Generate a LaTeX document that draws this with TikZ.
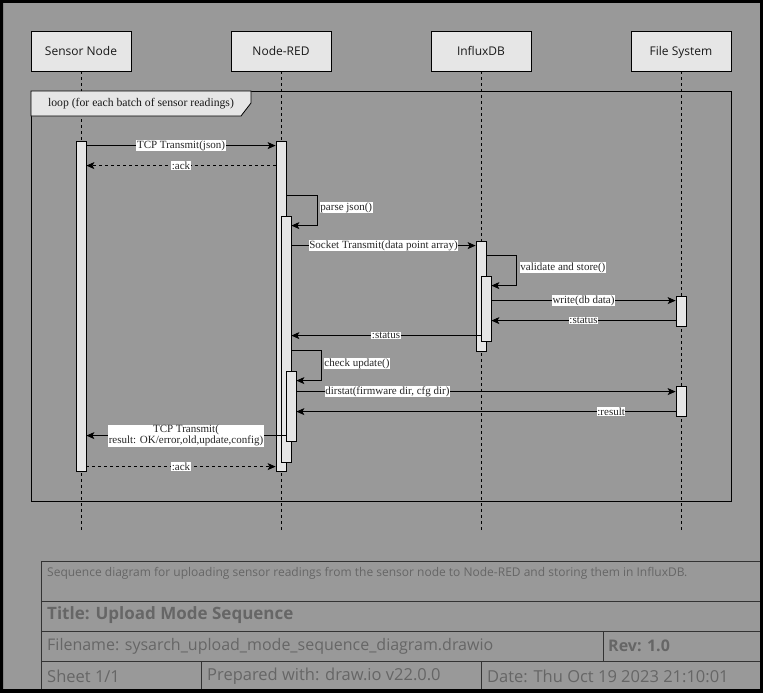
\documentclass[tikz,border=0pt]{standalone}
\usepackage{fontspec}
\setmainfont{Liberation Serif}
\newfontfamily\osans{Open Sans}
\usetikzlibrary{arrows.meta}
\definecolor{bggray}{HTML}{999999}
\definecolor{boxgray}{HTML}{E6E6E6}
\definecolor{tbline}{HTML}{333333}
\definecolor{tbtext}{HTML}{666666}
\begin{document}
\begin{tikzpicture}[x=1pt,y=-1pt,
  hdr/.style={draw=black, fill=boxgray, minimum width=100pt, minimum height=40pt, inner sep=0pt, line width=0.8pt, font=\osans\fontsize{12}{14}\selectfont, text=black!90, text depth=1pt},
  act/.style={draw=black, fill=boxgray, minimum width=10pt, inner sep=0pt, line width=0.8pt},
  life/.style={draw=black, dash pattern=on 3pt off 3pt, line width=0.7pt},
  msg/.style={draw=black, line width=0.9pt, -{Stealth[length=8pt,width=7pt,inset=2pt]}},
  ret/.style={msg, dash pattern=on 3pt off 3pt},
  lbl/.style={fill=white, inner sep=0.6pt, font=\fontsize{11}{11}\selectfont, text=black!85},
  tb/.style={anchor=west, inner sep=0pt, text=tbtext, font=\osans\fontsize{16}{18}\selectfont},
  tbb/.style={tb, font=\osans\bfseries\fontsize{16}{18}\selectfont},
]
\useasboundingbox (0,0) rectangle (763,693);
\fill[bggray] (0,0) rectangle (763,693);

% headers
\node[hdr] (hS) at (81,51) {Sensor Node};
\node[hdr] (hN) at (281,51) {Node-RED};
\node[hdr] (hI) at (481,51) {InfluxDB};
\node[hdr] (hF) at (681,51) {File System};

% lifelines
\coordinate (lend) at (0,530);
\foreach \h in {hS,hN,hI,hF} \draw[life] (\h.south) -- (\h.south |- lend);

% loop frame
\draw[black, line width=0.8pt] (31,91) rectangle (731,501);
\draw[black, fill=boxgray, line width=0.8pt] (31,91) -- (251,91) -- (251,103) -- (241,116) -- (31,116) -- cycle;
\node[font=\fontsize{11.7}{14}\selectfont, text=black!90, inner sep=0pt] (loopl) at (141,104) {loop (for each batch of sensor readings)};

% activations
\node[act, minimum height=330pt] (sA) at (81,306) {};
\node[act, minimum height=330pt] (nA) at (281,306) {};
\node[act, minimum height=246pt] (nB) at (286,339) {};
\node[act, minimum height=70pt] (nC) at (291,406) {};
\node[act, minimum height=110pt] (iA) at (481,296) {};
\node[act, minimum height=65pt] (iB) at (486,308.5) {};
\node[act, minimum height=30pt] (fA) at (681,311) {};
\node[act, minimum height=30pt] (fB) at (681,401) {};

% messages
\draw[msg] ([yshift=-5pt]sA.north east) -- node[lbl] {TCP Transmit(json)} ([yshift=-5pt]nA.north west);
\draw[ret] ([yshift=-25pt]nA.north west) -- node[lbl] {:ack} ([yshift=-25pt]sA.north east);
\draw[msg] ([yshift=-55pt]nA.north east) -- ++(31pt,0) |- node[lbl, pos=0.2, anchor=west, xshift=2pt] {parse json()} ([yshift=-10pt]nB.north east);
\draw[msg] ([yshift=-30pt]nB.north east) -- node[lbl] {Socket Transmit(data point array)} ([yshift=-5pt]iA.north west);
\draw[msg] ([yshift=-15pt]iA.north east) -- ++(30pt,0) |- node[lbl, pos=0.2, anchor=west, xshift=3pt] {validate and store()} ([yshift=-10pt]iB.north east);
\draw[msg] ([yshift=-25pt]iB.north east) -- node[lbl] {write(db data)} ([yshift=-5pt]fA.north west);
\draw[msg] ([yshift=-25pt]fA.north west) -- node[lbl] {:status} ([yshift=-45pt]iB.north east);
\draw[msg] ([yshift=-60pt]iB.north west) -- node[lbl] {:status} ([yshift=-120pt]nB.north east);
\draw[msg] ([yshift=-135pt]nB.north east) -- ++(30pt,0) |- node[lbl, pos=0.22, anchor=west, xshift=2pt] {check update()} ([yshift=-10pt]nC.north east);
\draw[msg] ([yshift=-21pt]nC.north east) -- node[lbl, pos=0.24] {dirstat(firmware dir, cfg dir)} ([yshift=-6pt]fB.north west);
\draw[msg] ([yshift=-26pt]fB.north west) -- node[lbl, pos=0.17] {:result} ([yshift=-41pt]nC.north east);
\draw[msg] ([yshift=-65pt]nC.north west) -- node[lbl, align=center] {TCP Transmit(\\result: OK/error,old,update,config)} ([yshift=-295pt]sA.north east);
\draw[ret] ([yshift=-326pt]sA.north east) -- node[lbl] {:ack} ([yshift=-326pt]nA.north west);

% title block
\draw[tbline, line width=0.8pt] (41,561) rectangle (760,689);
\draw[tbline, line width=0.8pt] (41,601) -- (760,601) (41,631) -- (760,631) (41,661) -- (760,661)
  (603,631) -- (603,661) (201,661) -- (201,689) (481,661) -- (481,689);
\node[tb, font=\osans\fontsize{12}{13}\selectfont] (tdesc) at (47,573) {Sequence diagram for uploading sensor readings from the sensor node to Node-RED and storing them in InfluxDB.};
\node[tbb, font=\osans\bfseries\fontsize{17}{18}\selectfont] (ttitle) at (47,615) {Title: Upload Mode Sequence};
\node[tb] (tfile) at (47,646) {Filename: sysarch\_upload\_mode\_sequence\_diagram.drawio};
\node[tbb] (trev) at (608,646) {Rev: 1.0};
\node[tb, font=\osans\fontsize{16.5}{18}\selectfont] (tsheet) at (47,676) {Sheet 1/1};
\node[tb, font=\osans\fontsize{16.5}{18}\selectfont] (tprep) at (207,676) {Prepared with: draw.io v22.0.0};
\node[tb, font=\osans\fontsize{16.5}{18}\selectfont] (tdate) at (487,676) {Date: Thu Oct 19 2023 21:10:01};

% outer border
\fill[black, even odd rule] (0,0) rectangle (763,693) (3,3) rectangle (760,689);
\end{tikzpicture}
\end{document}
